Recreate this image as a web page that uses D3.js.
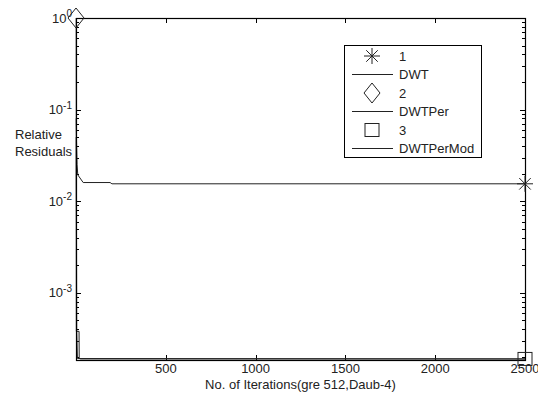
<!DOCTYPE html>
<html>
<head>
<meta charset="utf-8">
<script src="https://cdn.jsdelivr.net/npm/d3@7"></script>
<style>
  body { margin: 0; background: #fff; }
  svg { display: block; font-family: "Liberation Sans", Arial, sans-serif; }
</style>
</head>
<body>
<div id="chart"></div>
<script>
// ---- data ----
const dwtIter = [1, 3, 6, 10, 40, 190, 200, 2500];
const dwtRes = [0.08, 0.045, 0.025, 0.0194, 0.016, 0.016, 0.0155, 0.0155];
const perIter = [1, 2, 4, 8, 2500];
const perRes = [1, 0.02, 3.8e-4, 1.92e-4, 1.9e-4];
const modIter = [1, 2, 17, 18, 25, 2500];
const modRes = [0.05, 3.8e-4, 3.8e-4, 1.92e-4, 1.9e-4, 1.9e-4];
const markerIter = [2500, 0, 2500];
const markerRes = [0.0155, 1, 1.9e-4];
const markerShapes = ['star', 'diamond', 'square'];
const xTicks = [500, 1000, 1500, 2000, 2500];
const yDecades = [0, -1, -2, -3];
const legendLabels = ['1', 'DWT', '2', 'DWTPer', '3', 'DWTPerMod'];

const W = 538, H = 401;
const m = { left: 76, right: 525, top: 18, bottom: 360 };

const svg = d3.select('#chart').append('svg').attr('width', W).attr('height', H);
svg.append('rect').attr('width', W).attr('height', H).attr('fill', '#fff');

const x = d3.scaleLinear().domain([0, 2500]).range([m.left, m.right]);
const y = d3.scaleLog().domain([1.85e-4, 1]).range([m.bottom, m.top]);

// minor log ticks
const minor = [];
for (let e = -4; e < 0; e++) {
  for (let k = 2; k <= 9; k++) {
    const v = k * Math.pow(10, e);
    if (v >= 1.85e-4 && v <= 1) minor.push(v);
  }
}

const frame = svg.append('g').attr('stroke', '#000').attr('stroke-width', 1).attr('fill', 'none');

// y ticks, left and right, inward
[[m.left, 1], [m.right, -1]].forEach(([px, dir]) => {
  frame.selectAll(null).data(minor).join('line')
    .attr('x1', px).attr('x2', px + dir * 3)
    .attr('y1', d => Math.round(y(d)) + 0.5).attr('y2', d => Math.round(y(d)) + 0.5);
  frame.selectAll(null).data(yDecades).join('line')
    .attr('x1', px).attr('x2', px + dir * 5)
    .attr('y1', d => Math.round(y(Math.pow(10, d))) + 0.5).attr('y2', d => Math.round(y(Math.pow(10, d))) + 0.5);
});
// x ticks, bottom and top, inward
[[m.bottom, -1], [m.top, 1]].forEach(([py, dir]) => {
  frame.selectAll(null).data(xTicks).join('line')
    .attr('x1', d => Math.round(x(d)) + 0.5).attr('x2', d => Math.round(x(d)) + 0.5)
    .attr('y1', py).attr('y2', py + dir * 5);
});

// series lines
const line = (xs, ys) => d3.line().x((d, i) => x(xs[i])).y(d => y(d))(ys);
const lines = svg.append('g').attr('fill', 'none').attr('stroke', '#222').attr('stroke-width', 1);
lines.append('path').attr('d', line(dwtIter, dwtRes));
lines.append('path').attr('d', line(perIter, perRes));
lines.append('path').attr('d', line(modIter, modRes));

// box
svg.append('rect')
  .attr('x', m.left + 0.5).attr('y', m.top + 0.5)
  .attr('width', m.right - m.left).attr('height', m.bottom - m.top)
  .attr('fill', 'none').attr('stroke', '#000').attr('stroke-width', 1.2);

// marker drawing
function marker(g, shape, cx, cy) {
  const s = g.append('g').attr('transform', `translate(${cx},${cy})`)
    .attr('fill', 'none').attr('stroke', '#222').attr('stroke-width', 1);
  if (shape === 'star') {
    const r = 8;
    s.append('path').attr('d',
      `M${-r},0H${r}M0,${-r}V${r}M${-r * 0.72},${-r * 0.72}L${r * 0.72},${r * 0.72}M${-r * 0.72},${r * 0.72}L${r * 0.72},${-r * 0.72}`);
  } else if (shape === 'diamond') {
    s.append('path').attr('d', 'M0,-10L8,0L0,10L-8,0Z');
  } else {
    s.append('rect').attr('x', -7).attr('y', -6.5).attr('width', 14).attr('height', 13);
  }
}
const mk = svg.append('g');
markerShapes.forEach((sh, i) => marker(mk, sh, x(markerIter[i]), y(markerRes[i])));

// y tick labels
const yl = svg.append('g').attr('font-size', 13).attr('fill', '#222');
yDecades.forEach(d => {
  const t = yl.append('text').attr('x', 72).attr('y', y(Math.pow(10, d))).attr('dy', '0.35em')
    .attr('text-anchor', 'end');
  t.append('tspan').text('10');
  t.append('tspan').attr('dy', '-0.55em').attr('font-size', 10).text(String(d));
});

// x tick labels
svg.append('g').attr('font-size', 13).attr('fill', '#222').selectAll('text').data(xTicks).join('text')
  .attr('x', d => x(d)).attr('y', 373).attr('text-anchor', 'middle').text(d => d);

// axis titles
svg.append('text').attr('x', (m.left + m.right) / 2).attr('y', 389).attr('text-anchor', 'middle')
  .attr('font-size', 13).attr('fill', '#222').text('No. of Iterations(gre 512,Daub-4)');
const yt = svg.append('text').attr('font-size', 13).attr('fill', '#222');
yt.append('tspan').attr('x', 15).attr('y', 139).text('Relative');
yt.append('tspan').attr('x', 15).attr('y', 156).text('Residuals');

// legend
const lg = svg.append('g');
lg.append('rect').attr('x', 344.5).attr('y', 45.5).attr('width', 137).attr('height', 112)
  .attr('fill', '#fff').attr('stroke', '#000').attr('stroke-width', 1);
const rowY = [56, 74, 93, 111, 130, 148];
legendLabels.forEach((lab, i) => {
  const cy = rowY[i];
  if (i % 2 === 0) marker(lg, markerShapes[i / 2], 372, cy);
  else lg.append('line').attr('x1', 352).attr('x2', 393).attr('y1', cy + 0.5).attr('y2', cy + 0.5)
    .attr('stroke', '#222').attr('stroke-width', 1);
  lg.append('text').attr('x', 399).attr('y', cy).attr('dy', '0.35em').attr('font-size', 13)
    .attr('fill', '#222').text(lab);
});
</script>
</body>
</html>
